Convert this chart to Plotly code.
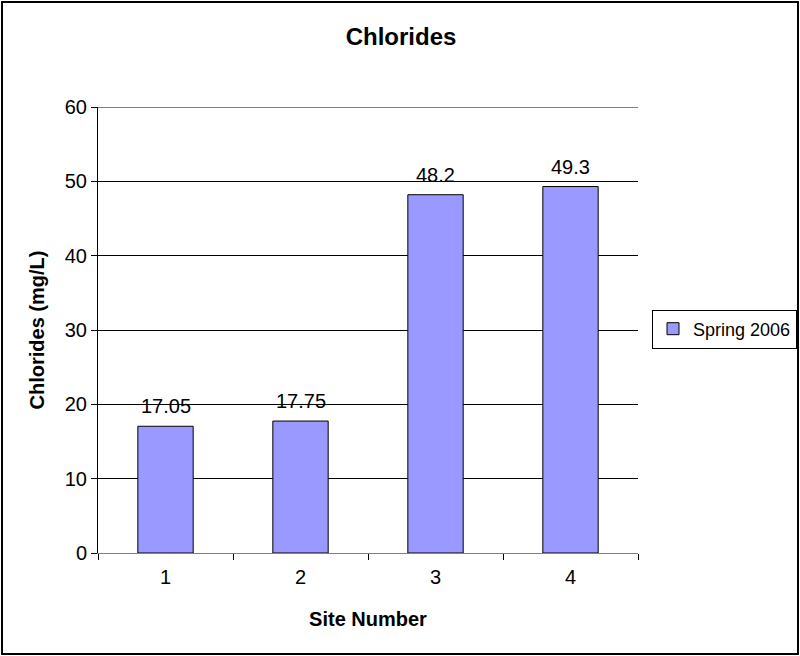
import plotly.graph_objects as go

# Chloride readings per site
sites = ["1", "2", "3", "4"]
chlorides = [17.05, 17.75, 48.2, 49.3]
value_labels = ["17.05", "17.75", "48.2", "49.3"]
series_name = "Spring 2006"
y_ticks = [0, 10, 20, 30, 40, 50, 60]

W, H = 800, 656
L, R, T, B = 98, 162, 107, 103
pw, ph = W - L - R, H - T - B
FAM = "Arial, Liberation Sans, sans-serif"

fig = go.Figure()
fig.add_trace(go.Bar(
    x=sites, y=chlorides, name=series_name,
    marker=dict(color="#9999FF", line=dict(color="black", width=1)),
    width=0.41,
))

# value labels above each bar (category axis positions are 0..n-1)
for i, (v, lab) in enumerate(zip(chlorides, value_labels)):
    fig.add_annotation(x=i, y=v, text=lab, showarrow=False, yanchor="bottom",
                       yshift=7, font=dict(family=FAM, size=20, color="black"))

font = dict(family=FAM, size=20, color="black")
fig.update_layout(
    width=W, height=H,
    margin=dict(l=L, r=R, t=T, b=B, autoexpand=False),
    paper_bgcolor="white", plot_bgcolor="white",
    font=font,
    showlegend=True,
    title=dict(text="<b>Chlorides</b>", x=401 / W, xref="container", xanchor="center",
               y=1 - 37 / H, yref="container", yanchor="middle",
               font=dict(family=FAM, size=24, color="black")),
    legend=dict(x=(652 - L) / pw, y=(553 - 329) / ph, xanchor="left", yanchor="middle",
                bordercolor="black", borderwidth=1, bgcolor="white",
                font=dict(family=FAM, size=18, color="black"),
                itemwidth=30),
    shapes=[
        dict(type="rect", xref="paper", yref="paper",
             x0=(2 - L) / pw, x1=(798 - L) / pw,
             y0=(553 - 654) / ph, y1=(553 - 2) / ph,
             line=dict(color="black", width=2), fillcolor="rgba(0,0,0,0)"),
        dict(type="line", xref="paper", yref="y", x0=0, x1=1,
             y0=y_ticks[-1], y1=y_ticks[-1], line=dict(color="black", width=1)),
    ],
)
fig.update_xaxes(
    type="category", range=[-0.5, len(sites) - 0.5],
    showline=True, linecolor="#808080", linewidth=1,
    ticks="outside", tickson="boundaries", ticklen=6, tickcolor="black",
    ticklabelstandoff=6,
    showgrid=False,
    title=dict(text="<b>Site Number</b>", standoff=24,
               font=dict(family=FAM, size=20, color="black")),
    tickfont=font,
)
fig.update_yaxes(
    range=[y_ticks[0], y_ticks[-1]], tickvals=y_ticks,
    showline=True, linecolor="black", linewidth=1,
    ticks="outside", ticklen=6, tickcolor="black",
    showgrid=True, gridcolor="black", gridwidth=1, zeroline=False,
    title=dict(text="<b>Chlorides (mg/L)</b>", standoff=14,
               font=dict(family=FAM, size=20, color="black")),
    tickfont=font,
)

fig.write_html("out.html")
